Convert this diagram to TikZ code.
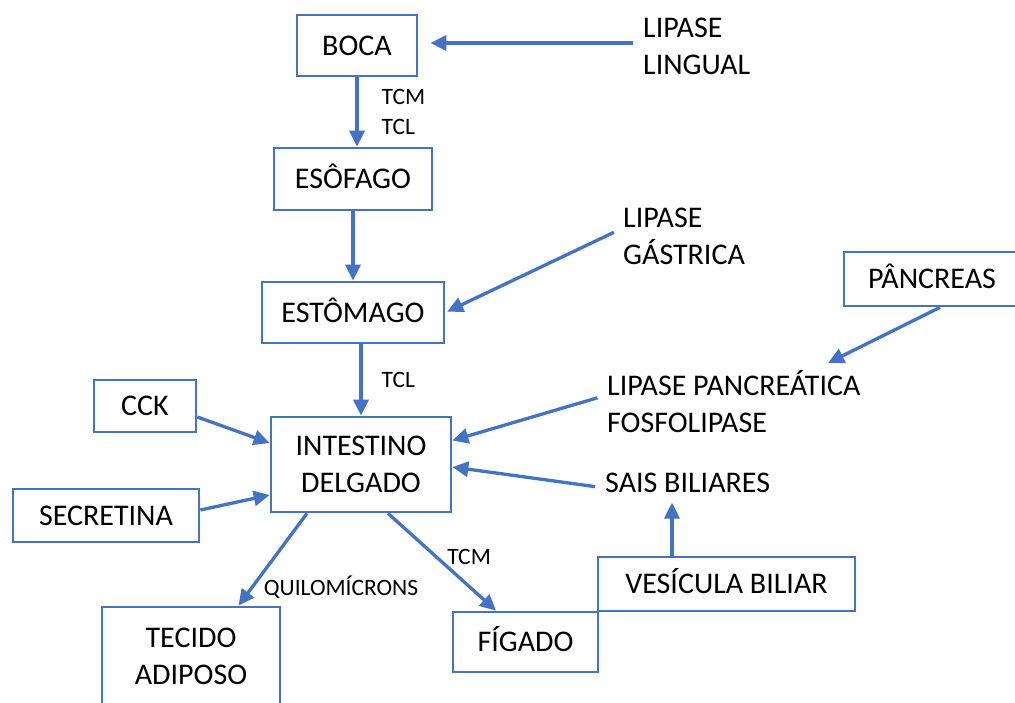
\documentclass[tikz,border=0pt]{standalone}
\usepackage{fontspec}
\setmainfont{Carlito}
\usepackage{tikz}
\usetikzlibrary{arrows.meta, positioning}
\definecolor{azul}{RGB}{68,114,196}

\begin{document}
\begin{tikzpicture}[x=1pt,y=-1pt,>={Triangle[length=16pt,width=15pt]},
        every node/.style={font=\fontsize{30}{37}\selectfont,text=black}]
        \tikzstyle{caixa}=[draw=azul,line width=2.7pt,inner sep=0pt,align=center]
        \tikzstyle{umalinha}=[text height=19.5pt,text depth=0pt]
        \tikzstyle{texto}=[anchor=west,align=left,inner sep=0pt]
        \tikzstyle{seta}=[->,draw=azul,line width=3.3pt]
        \tikzstyle{rotulo}=[font=\fontsize{23.5}{30}\selectfont,align=left,inner sep=0pt]
        \useasboundingbox (0,0) rectangle (1015,702);
        % caixas
        \node[caixa,umalinha,minimum width=120pt,minimum height=61pt](boca) at (357,45.5){BOCA};
        \node[caixa,umalinha,minimum width=158pt,minimum height=62pt](esofago) at (353,179){ESÔFAGO};
        \node[caixa,umalinha,minimum width=182pt,minimum height=61pt](estomago) at (353,312.5){ESTÔMAGO};
        \node[caixa,minimum width=180pt,minimum height=95pt](intestino) at (361,464.5){INTESTINO\\DELGADO};
        \node[caixa,umalinha,minimum width=102pt,minimum height=52pt](cck) at (145,406){CCK};
        \node[caixa,umalinha,minimum width=186pt,minimum height=53pt](secretina) at (106,515.5){SECRETINA};
        \node[caixa,umalinha,minimum width=176pt,minimum height=54pt](pancreas) at (932,279){PÂNCREAS};
        \node[caixa,minimum width=178pt,minimum height=98pt](tecido) at (191,656){TECIDO\\ADIPOSO};
        \node[caixa,umalinha,minimum width=145pt,minimum height=60pt](figado) at (525.5,642){FÍGADO};
        \node[caixa,umalinha,minimum width=257pt,minimum height=54pt](vesicula) at (726.5,584){VESÍCULA BILIAR};
        % textos soltos
        \node[texto](lingual) at (643,46.5){LIPASE\\LINGUAL};
        \node[texto](gastrica) at (623,236){LIPASE\\GÁSTRICA};
        \node[texto](pancreatica) at (607,401.5){LIPASE PANCREÁTICA\\FOSFOLIPASE};
        \node[texto](sais) at (605,483){SAIS BILIARES};
        \coordinate (pontaPanc) at ([xshift=221pt,yshift=38.5pt]pancreatica.west);

        \path ([yshift=3.5pt]lingual.west) edge[seta,shorten <=10pt,shorten >=12pt] ([yshift=2.5pt]boca.east);
        \path (boca.south) edge[seta] node[rotulo,right=23pt] {TCM\\TCL} (boca.south |- esofago.north);
        \path (esofago) edge[seta] (estomago);
        \path ([yshift=8pt]gastrica.west) edge[seta,shorten <=10pt,shorten >=2pt] (estomago.east);
        \path (intestino.north |- estomago.south) edge[seta] node[rotulo,right=19pt] {TCL} (intestino.north);

        \path ([yshift=-11pt]cck.east) edge[seta] ([yshift=21.5pt]intestino.west);
        \path ([yshift=5.5pt]secretina.east) edge[seta] ([yshift=-30.5pt]intestino.west);
        \path ([yshift=6.5pt]pancreatica.west) edge[seta,shorten <=10pt] ([yshift=24pt]intestino.east);
        \path ([yshift=-5pt]sais.west) edge[seta,shorten <=10pt] ([yshift=-2.5pt]intestino.east);
        \path ([xshift=8pt]pancreas.south) edge[seta] (pontaPanc);

        \draw[seta,shorten >=9.5pt] ([xshift=-54.5pt]vesicula.north) -- ([xshift=-54.5pt]vesicula.north |- sais.south);
        \path ([xshift=-54pt]intestino.south) edge[seta] node[rotulo,pos=0.8,right=10pt] {QUILOMÍCRONS} ([xshift=47.5pt]tecido.north);
        \path ([xshift=27pt]intestino.south) edge[seta] node[rotulo,pos=0.45,right=9pt] {TCM} ([xshift=-29.5pt]figado.north);
\end{tikzpicture}
\end{document}
